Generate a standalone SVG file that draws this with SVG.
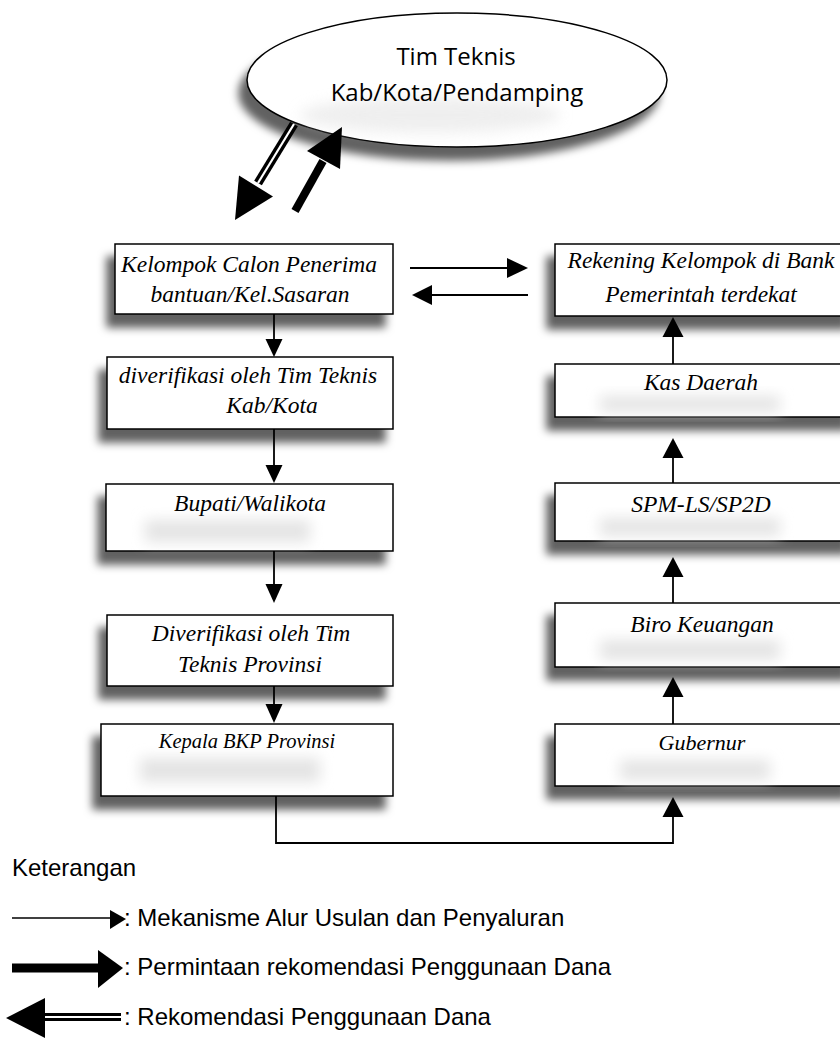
<svg xmlns="http://www.w3.org/2000/svg" width="840" height="1041" viewBox="0 0 840 1041">
<defs>
<style>
.box{fill:#fff;stroke:#000;stroke-width:1.5;filter:url(#sh)}
.glow{fill:#e4e4e4;filter:url(#bl)}
.t{font-family:"Liberation Serif","Times New Roman",serif;font-style:italic;font-size:23.5px;fill:#000;text-anchor:middle}
.ts{font-size:20.5px}
.e{font-family:"Open Sans","DejaVu Sans",sans-serif;font-size:24px;fill:#000;text-anchor:middle}
.lg{font-family:"Liberation Sans",Arial,sans-serif;font-size:24px;fill:#000}
.ln{stroke:#000;stroke-width:1.8;fill:none}
.hd{fill:#000}
</style>
<filter id="sh" x="-20%" y="-30%" width="140%" height="180%">
<feGaussianBlur in="SourceAlpha" stdDeviation="4.5"/>
<feOffset dx="-8" dy="13" result="b"/>
<feFlood flood-color="#000" flood-opacity="0.62"/>
<feComposite in2="b" operator="in"/>
<feMerge><feMergeNode/><feMergeNode in="SourceGraphic"/></feMerge>
</filter>
<filter id="bl" x="-30%" y="-60%" width="160%" height="220%">
<feGaussianBlur stdDeviation="7"/>
</filter>
</defs>
<rect width="840" height="1041" fill="#fff"/>

<g id="tim-teknis">
<ellipse cx="457" cy="80" rx="210" ry="67" class="box"/>
<ellipse cx="430" cy="115" rx="130" ry="18" class="glow" opacity="0.6"/>
<text class="e" x="456" y="65">Tim Teknis</text>
<text class="e" x="457" y="101">Kab/Kota/Pendamping</text>
</g>

<g id="kelompok">
<rect x="115" y="244" width="278" height="70" class="box"/>
<text class="t" x="249" y="272">Kelompok Calon Penerima</text>
<text class="t" x="250" y="302">bantuan/Kel.Sasaran</text>
</g>
<g id="verif-kab">
<rect x="107" y="357" width="286" height="72" class="box"/>
<text class="t" x="248" y="383">diverifikasi oleh Tim Teknis</text>
<text class="t" x="272" y="413">Kab/Kota</text>
</g>
<g id="bupati">
<rect x="106" y="484" width="287" height="67" class="box"/>
<rect x="145" y="520" width="165" height="22" class="glow"/>
<text class="t" x="250" y="511">Bupati/Walikota</text>
</g>
<g id="verif-prov">
<rect x="107" y="615" width="286" height="71" class="box"/>
<text class="t" x="251" y="641">Diverifikasi oleh Tim</text>
<text class="t" x="250" y="672">Teknis Provinsi</text>
</g>
<g id="kepala-bkp">
<rect x="101" y="724" width="292" height="72" class="box"/>
<rect x="140" y="758" width="180" height="24" class="glow"/>
<text class="t ts" x="247" y="748">Kepala BKP Provinsi</text>
</g>

<g id="rekening">
<rect x="555" y="244" width="300" height="72" class="box"/>
<text class="t" x="701" y="268">Rekening Kelompok di Bank</text>
<text class="t" x="701" y="302">Pemerintah terdekat</text>
</g>
<g id="kas-daerah">
<rect x="555" y="364" width="300" height="53" class="box"/>
<rect x="600" y="396" width="180" height="16" class="glow"/>
<text class="t" x="701" y="390">Kas Daerah</text>
</g>
<g id="spm">
<rect x="555" y="483" width="300" height="58" class="box"/>
<rect x="600" y="518" width="180" height="18" class="glow"/>
<text class="t" x="701" y="512">SPM-LS/SP2D</text>
</g>
<g id="biro">
<rect x="555" y="603" width="300" height="64" class="box"/>
<rect x="600" y="640" width="180" height="20" class="glow"/>
<text class="t" x="702" y="632">Biro Keuangan</text>
</g>
<g id="gubernur">
<rect x="555" y="724" width="300" height="62" class="box"/>
<rect x="620" y="760" width="150" height="20" class="glow"/>
<text class="t" x="702" y="750" style="font-size:22px">Gubernur</text>
</g>

<g id="connectors">
<line class="ln" x1="274" y1="314" x2="274" y2="340"/>
<polygon class="hd" points="265.5,339 282.5,339 274,357"/>
<line class="ln" x1="274" y1="429" x2="274" y2="466"/>
<polygon class="hd" points="265.5,465 282.5,465 274,483"/>
<line class="ln" x1="274" y1="551" x2="274" y2="585"/>
<polygon class="hd" points="265.5,584 282.5,584 274,603"/>
<line class="ln" x1="274" y1="686" x2="274" y2="705"/>
<polygon class="hd" points="265.5,704 282.5,704 274,723"/>
<polyline class="ln" points="276,796 276,843 673,843 673,815"/>
<polygon class="hd" points="662.5,817 683.5,817 673,797"/>
<line class="ln" x1="673" y1="724" x2="673" y2="695"/>
<polygon class="hd" points="662.5,697 683.5,697 673,677"/>
<line class="ln" x1="673" y1="603" x2="673" y2="575"/>
<polygon class="hd" points="662.5,577 683.5,577 673,557"/>
<line class="ln" x1="673" y1="483" x2="673" y2="456"/>
<polygon class="hd" points="662.5,458 683.5,458 673,438"/>
<line class="ln" x1="673" y1="364" x2="673" y2="335"/>
<polygon class="hd" points="662.5,337 683.5,337 673,317"/>
<line class="ln" x1="410" y1="268" x2="509" y2="268"/>
<polygon class="hd" points="507,258 507,278 528,268"/>
<line class="ln" x1="528" y1="295" x2="430" y2="295"/>
<polygon class="hd" points="432,285 432,305 412,295"/>
<line x1="294" y1="124" x2="258" y2="183" stroke="#000" stroke-width="9"/>
<line x1="294" y1="124" x2="258" y2="183" stroke="#fff" stroke-width="2.2"/>
<polygon class="hd" points="273,196.5 239,175.5 235,220"/>
<line x1="295" y1="211" x2="323" y2="161" stroke="#000" stroke-width="8"/>
<polygon class="hd" points="340,169 307,151 342,127"/>
</g>

<g id="legend">
<text class="lg" x="12" y="876">Keterangan</text>
<line x1="12" y1="918" x2="112" y2="918" stroke="#000" stroke-width="1.5"/>
<polygon class="hd" points="110,910 110,929 126,919"/>
<text class="lg" x="124" y="926">: Mekanisme Alur Usulan dan Penyaluran</text>
<line x1="12" y1="968" x2="100" y2="968" stroke="#000" stroke-width="9"/>
<polygon class="hd" points="98,950 98,988 123,968"/>
<text class="lg" x="124" y="975">: Permintaan rekomendasi Penggunaan Dana</text>
<line x1="40" y1="1017" x2="121" y2="1017" stroke="#000" stroke-width="8"/>
<line x1="43" y1="1017" x2="121" y2="1017" stroke="#fff" stroke-width="2"/>
<polygon class="hd" points="45,998 45,1038 6,1018"/>
<text class="lg" x="124" y="1025">: Rekomendasi Penggunaan Dana</text>
</g>
</svg>
